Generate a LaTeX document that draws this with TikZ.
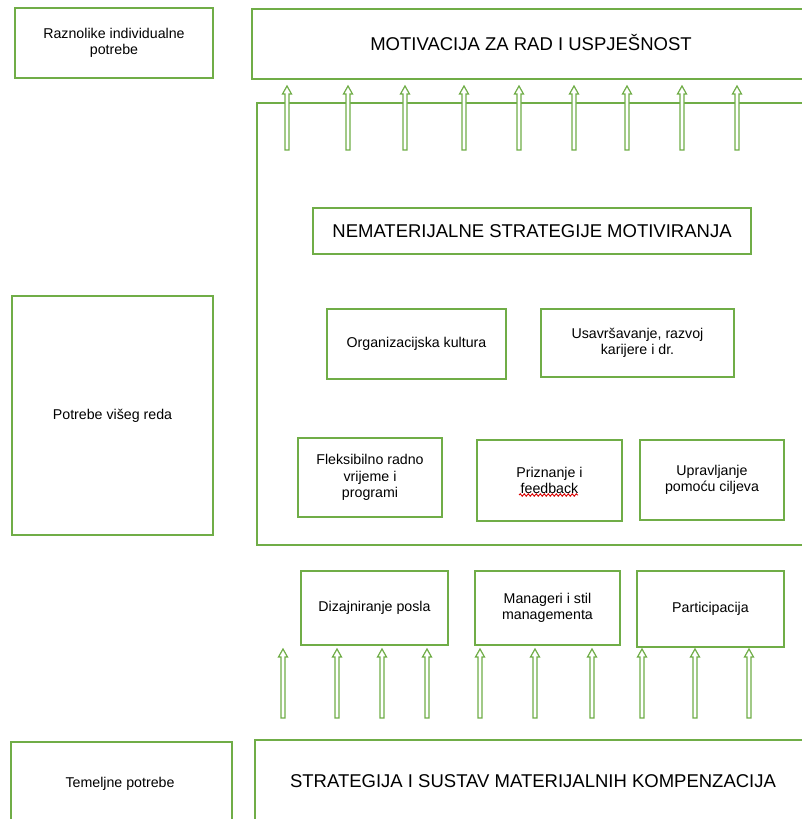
\documentclass[tikz,border=0pt]{standalone}
\usepackage{fontspec}
\setmainfont{Liberation Sans}
\usetikzlibrary{decorations.pathmorphing}
\definecolor{og}{RGB}{112,173,71}
\newcommand\mybox[6]{\node[box, minimum width={#4-#2}, minimum height={#5-#3}] (#1) at ({(#2+#4)/2},{(#3+#5)/2}) {#6};}
\newcommand\uparr[4]{\coordinate (#1) at (#2,#4);
  \draw[arrsty] (#2-2,#3) -- (#2-2,#4+8) -- (#2-4.5,#4+8) -- (#1) -- (#2+4.5,#4+8) -- (#2+2,#4+8) -- (#2+2,#3) -- cycle;}
\begin{document}
\begin{tikzpicture}[x=1pt,y=-1pt,
  box/.style={draw=og, line width=1.8pt, fill=white, align=center, inner sep=2pt, font=\fontsize{14.2}{16.5}\selectfont},
  bigbox/.style={box, font=\fontsize{18.5}{22}\selectfont},
  arrsty/.style={draw=og, line width=1.2pt, fill=white, line join=miter}]
\useasboundingbox (0,0) rectangle (801,819);
% frame
\draw[og, line width=1.8pt] (830,103) -- (257,103) -- (257,545) -- (830,545);
% top row
\mybox{raz}{15}{8}{213}{78}{Raznolike individualne\\potrebe}
\node[bigbox, minimum width=560, minimum height=70, anchor=north west] (mot) at (251,8) {};
\node[font=\fontsize{18.5}{22}\selectfont] (motl) at (531,43) {MOTIVACIJA ZA RAD I USPJEŠNOST};
% top arrows
\foreach \x [count=\i] in {287,348,405,464,519,574,627,682,737}{\uparr{ta\i}{\x}{150}{86}}
% inner boxes
\mybox{nem}{313}{208}{751}{254}{}
\node[font=\fontsize{18.5}{22}\selectfont] (neml) at (532,231) {NEMATERIJALNE STRATEGIJE MOTIVIRANJA};
\mybox{org}{327}{309}{506}{379}{Organizacijska kultura}
\mybox{usa}{541}{309}{734}{377}{Usavršavanje, razvoj\\karijere i dr.}
\mybox{fle}{298}{438}{442}{517}{Fleksibilno radno\\vrijeme i\\programi}
\mybox{pri}{477}{440}{622}{521}{Priznanje i\\feedback}
\mybox{upr}{640}{440}{784}{520}{Upravljanje\\pomoću ciljeva}
\draw[red!85!black, line width=0.9pt, decorate, decoration={snake, amplitude=1.2pt, segment length=4pt}] (519,495) -- (578,495);
% left
\mybox{vis}{12}{296}{213}{535}{Potrebe višeg reda}
% lower row
\mybox{diz}{301}{571}{448}{645}{Dizajniranje posla}
\mybox{man}{475}{571}{620}{645}{Manageri i stil\\managementa}
\mybox{par}{637}{571}{784}{647}{Participacija}
\foreach \x [count=\i] in {283,337,382,427,480,535,592,642,695,749}{\uparr{ba\i}{\x}{718}{649}}
% bottom
\node[box, minimum width=221, minimum height=100, anchor=north west] (tem) at (10,741) {};
\node[font=\fontsize{14.2}{16.5}\selectfont] (teml) at (120,784) {Temeljne potrebe};
\node[box, minimum width=580, minimum height=100, anchor=north west] (str) at (254,739) {};
\node[font=\fontsize{18.5}{22}\selectfont] (strl) at (533,781) {STRATEGIJA I SUSTAV MATERIJALNIH KOMPENZACIJA};
\end{tikzpicture}
\end{document}
